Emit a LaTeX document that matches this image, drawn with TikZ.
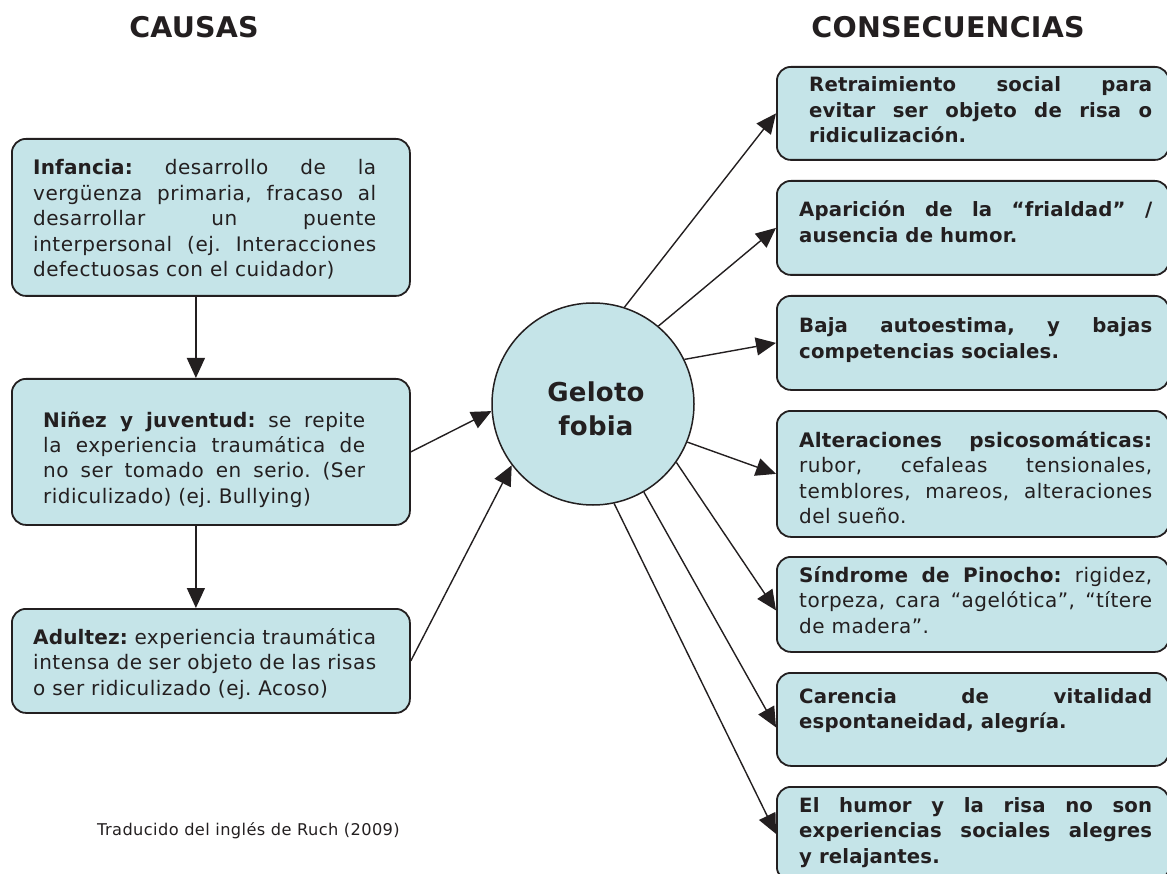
\documentclass[tikz,border=0pt]{standalone}
\usepackage{fontspec}
\setmainfont{DejaVu Sans}[LetterSpace=2.5, BoldFeatures={LetterSpace=0.8}]
\usetikzlibrary{arrows.meta}
\definecolor{boxfill}{RGB}{197,228,232}
\definecolor{ink}{RGB}{35,31,32}
\frenchspacing
\begin{document}
\begin{tikzpicture}[x=1pt,y=-1pt,
  box/.style={draw=ink, line width=1.8pt, fill=boxfill, rounded corners=14pt, anchor=north west, inner sep=0pt},
  txt/.style={anchor=base west, inner sep=0pt, text=ink, font=\fontsize{20}{25.5}\selectfont\frenchspacing, align=justify},
  btxt/.style={txt, font=\fontsize{19.7}{25.5}\selectfont\bfseries\frenchspacing},
  arr/.style={draw=ink, line width=1.4pt, -{Triangle[length=20pt,width=18pt]}},
  title/.style={anchor=base, inner sep=0pt, text=ink, font=\fontsize{28.5}{32}\selectfont\bfseries\addfontfeature{LetterSpace=9}},
]
\useasboundingbox (0,0) rectangle (1167,874);

% titles
\node[title] (tc) at (194,38) {CAUSAS};
\node[title] (tq) at (948,38) {CONSECUENCIAS};

% left boxes
\node[box, minimum width=398pt, minimum height=157pt] (l1) at (11,138) {};
\node[box, minimum width=398pt, minimum height=146pt] (l2) at (11,378) {};
\node[box, minimum width=398pt, minimum height=104pt] (l3) at (11,608) {};

\node[txt, text width=343pt] (t1) at (33,175) {\textbf{Infancia:} desarrollo de la\linebreak vergüenza primaria, fracaso al\linebreak desarrollar un puente\linebreak interpersonal (ej. Interacciones\linebreak defectuosas con el cuidador)};
\node[txt, text width=322pt] (t2) at (43,427) {\textbf{Niñez y juventud:} se repite\linebreak la experiencia traumática de\linebreak no ser tomado en serio. (Ser\linebreak ridiculizado) (ej. Bullying)};
\node[txt, text width=343pt] (t3) at (33,644) {\textbf{Adultez:} experiencia traumática\linebreak intensa de ser objeto de las risas\linebreak o ser ridiculizado (ej. Acoso)};

% central circle
\node[circle, draw=ink, line width=1.5pt, fill=boxfill, minimum size=202pt, inner sep=0pt] (geo) at (593,404) {};
\node[text=ink, align=center, inner sep=0pt, font=\fontsize{26}{34}\selectfont\bfseries, anchor=base] (gtext) at (596,435) {Geloto\\fobia};

% right boxes
\node[box, minimum width=392pt, minimum height=93pt] (r1) at (776,66) {};
\node[box, minimum width=392pt, minimum height=94pt] (r2) at (776,180) {};
\node[box, minimum width=392pt, minimum height=94pt] (r3) at (776,295) {};
\node[box, minimum width=392pt, minimum height=126pt] (r4) at (776,410) {};
\node[box, minimum width=392pt, minimum height=95pt] (r5) at (776,556) {};
\node[box, minimum width=392pt, minimum height=93pt] (r6) at (776,672) {};
\node[box, minimum width=392pt, minimum height=94pt] (r7) at (776,786) {};

\node[btxt, text width=343pt] (u1) at (809,92) {Retraimiento social para\linebreak evitar ser objeto de risa o\linebreak ridiculización.};
\node[btxt, text width=353pt] (u2) at (799,217) {Aparición de la “frialdad” /\linebreak ausencia de humor.};
\node[btxt, text width=353pt] (u3) at (799,333) {Baja autoestima, y bajas\linebreak competencias sociales.};
\node[txt, text width=353pt] (u4) at (799,447) {\textbf{Alteraciones psicosomáticas:}\linebreak rubor, cefaleas tensionales,\linebreak temblores, mareos, alteraciones\linebreak del sueño.};
\node[txt, text width=353pt] (u5) at (799,582) {\textbf{Síndrome de Pinocho:} rigidez,\linebreak torpeza, cara “agelótica”, “títere\linebreak de madera”.};
\node[btxt, text width=353pt] (u6) at (799,703) {Carencia de vitalidad\linebreak espontaneidad, alegría.};
\node[btxt, text width=353pt] (u7) at (799,812) {El humor y la risa no son\linebreak experiencias sociales alegres\linebreak y relajantes.};

% footnote
\node[anchor=base west, inner sep=0pt, text=ink, font=\fontsize{16.2}{20}\selectfont] (fn) at (97,835) {Traducido del inglés de Ruch (2009)};

% connectors
\draw[arr] ([xshift=-15pt]l1.south) -- ([xshift=-15pt]l2.north);
\draw[arr] ([xshift=-15pt]l2.south) -- ([xshift=-15pt]l3.north);
\draw[arr] (l2.east) -- (geo.184.5);
\draw[arr] (l3.east) -- (geo.217);
\draw[arr] (geo.72.4) -- (r1.west);
\draw[arr] (geo.50.9) -- (r2.west);
\draw[arr] (geo.26.3) -- (r3.west);
\draw[arr] (geo.-22.2) -- (r4.west);
\draw[arr] (geo.-35) -- ([yshift=-6pt]r5.west);
\draw[arr] (geo.-60) -- ([yshift=-8pt]r6.west);
\draw[arr] (geo.-78) -- (r7.west);
\end{tikzpicture}
\end{document}
